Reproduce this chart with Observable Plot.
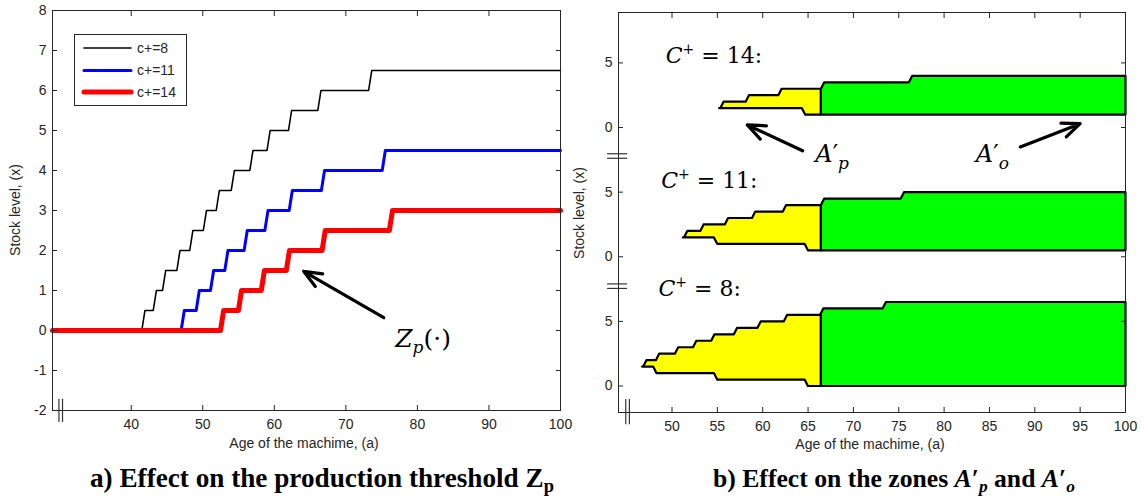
<!DOCTYPE html>
<html><head><meta charset="utf-8">
<script src="https://cdn.jsdelivr.net/npm/d3@7"></script>
<script src="https://cdn.jsdelivr.net/npm/@observablehq/plot@0.6"></script>
<style>
body{margin:0;background:#fff;}
#wrap{position:relative;width:1144px;height:499px;overflow:hidden;font-family:"Liberation Sans",Arial,sans-serif;color:#262626;}
.panel{position:absolute;top:0;}
.lab{position:absolute;font-size:14px;white-space:nowrap;transform:translate(-50%,-50%);color:#262626;}
.ylab{transform:translate(-50%,-50%) rotate(-90deg);}
#legend{position:absolute;left:74px;top:34px;width:111px;height:70px;border:1px solid #262626;background:#fff;}
#caps{position:absolute;left:0;top:0;}
</style></head><body>
<div id="wrap">
  <div id="pa" class="panel" style="left:0"></div>
  <div id="pb" class="panel" style="left:570px"></div>
  <div id="legend"></div>
  <div class="lab ylab" style="left:15px;top:210px">Stock level, (x)</div>
  <div class="lab" style="left:304px;top:443px">Age of the machime, (a)</div>
  <div class="lab ylab" style="left:579px;top:213px">Stock level, (x)</div>
  <div class="lab" style="left:870px;top:444px">Age of the machime, (a)</div>
  <svg id="caps" width="1144" height="499"></svg>
</div>
<script>
// ---------------- Panel a: production threshold Zp ----------------
const ageTicksA = [40, 50, 60, 70, 80, 90, 100];
const levelTicksA = [-2, -1, 0, 1, 2, 3, 4, 5, 6, 7, 8];
const seriesLabels = ["c+=8", "c+=11", "c+=14"];
const seriesColors = ["#000000", "#0000ff", "#ff0000"];
// ages at which Zp steps up, and the level reached
const zpAges8 = [41.7, 43.3, 44.6, 46.6, 48.4, 50.3, 52.1, 54.2, 56.8, 59.2, 62.2, 66.3, 73.4];
const zpLevels8 = [0.5, 1, 1.5, 2, 2.5, 3, 3.5, 4, 4.5, 5, 5.5, 6, 6.5];
const zpAges11 = [47.2, 49.3, 51.3, 53.3, 56.0, 58.9, 62.3, 66.8, 75.3];
const zpLevels11 = [0.5, 1, 1.5, 2, 2.5, 3, 3.5, 4, 4.5];
const zpAges14 = [52.7, 55.2, 58.4, 61.9, 66.9, 76.3];
const zpLevels14 = [0.5, 1, 1.5, 2, 2.5, 3];

// ---------------- Panel b: zones A'p (yellow) and A'o (green) ----------------
const ageTicksB = [50, 55, 60, 65, 70, 75, 80, 85, 90, 95, 100];
const levelTicksB = [0, 5, 10, 15, 20, 25];
const levelTickLabelsB = ["0", "5", "0", "5", "0", "5"];
const zoneCases = ["C+ = 8:", "C+ = 11:", "C+ = 14:"];
const zoneTipAge = [46.7, 51.2, 55.2];
const zoneTipLevel = [1.5, 1.5, 1.5];
const zoneSplitAge = [66.4, 66.4, 66.4];
const zoneEndAge = 100;
const upperAges8 = [47.0, 48.4, 50.5, 52.5, 54.5, 57.0, 59.6, 62.5, 66.5, 73.4];
const upperLevels8 = [2, 2.5, 3, 3.5, 4, 4.5, 5, 5.5, 6, 6.5];
const lowerAges8 = [48.1, 54.8, 64.8];
const lowerLevels8 = [1, 0.5, 0];
const upperAges11 = [51.5, 53.3, 56.0, 59.0, 62.4, 66.6, 75.4];
const upperLevels11 = [2, 2.5, 3, 3.5, 4, 4.5, 5];
const lowerAges11 = [54.8, 64.8];
const lowerLevels11 = [1, 0.5];
const upperAges14 = [55.5, 58.3, 61.9, 66.6, 76.3];
const upperLevels14 = [2, 2.5, 3, 3.5, 4];
const lowerAges14 = [64.5];
const lowerLevels14 = [1];

// captions
const captionA = [{t: "a) Effect on the production threshold Z"}, {t: "p", sub: 1}];
const captionB = [{t: "b) Effect on the zones "}, {t: "A", it: 1}, {t: "′"}, {t: "p", it: 1, sub: 1}, {t: " and ", up: 1}, {t: "A", it: 1}, {t: "′"}, {t: "o", it: 1, sub: 1}];

// ---------------- helpers ----------------
function stepVertices(x0, y0, ages, levels, x1, half) {
  const pts = [{x: x0, y: y0}];
  let prev = y0;
  ages.forEach((a, i) => {
    pts.push({x: a - half, y: prev});
    pts.push({x: a + half, y: levels[i]});
    prev = levels[i];
  });
  pts.push({x: x1, y: prev});
  return pts;
}
function valueAt(pts, x) {
  for (let i = 1; i < pts.length; i++) {
    if (x <= pts[i].x) {
      const p = pts[i - 1], q = pts[i];
      const t = (x - p.x) / ((q.x - p.x) || 1);
      return p.y + t * (q.y - p.y);
    }
  }
  return pts[pts.length - 1].y;
}
function clipRange(pts, lo, hi) {
  const out = [{x: lo, y: valueAt(pts, lo)}];
  pts.forEach(p => { if (p.x > lo && p.x < hi) out.push(p); });
  out.push({x: hi, y: valueAt(pts, hi)});
  return out;
}
const NS = "http://www.w3.org/2000/svg";
function richify(svg, map) {
  svg.querySelectorAll("text").forEach(t => {
    const parts = map[t.textContent];
    if (!parts) return;
    t.textContent = "";
    parts.forEach(p => {
      const ts = document.createElementNS(NS, "tspan");
      ts.textContent = p.t;
      if (p.it) ts.setAttribute("font-style", "italic");
      if (p.size) ts.setAttribute("font-size", p.size);
      if (p.dy) ts.setAttribute("dy", p.dy);
      if (p.dx) ts.setAttribute("dx", p.dx);
      t.appendChild(ts);
    });
  });
}
const axisFont = {fontFamily: "'Liberation Sans', Arial, sans-serif", fontSize: "14px", color: "#262626", background: "transparent", overflow: "visible"};
const mathFont = "'DejaVu Serif', 'Liberation Serif', serif";
const plain = d => String(d);

// ---------------- Panel a ----------------
const half = 0.22;
const lineA = [
  stepVertices(29, 0, zpAges8, zpLevels8, 100, half),
  stepVertices(29, 0, zpAges11, zpLevels11, 100, half),
  stepVertices(29, 0, zpAges14, zpLevels14, 100, half)
];
const widthsA = [1.6, 3, 5];
const zpLabel = [{age: 76.9, level: -0.42, text: "Zp(·)"}];
const zpArrow = [{a1: 75.3, l1: 0.32, a2: 64.1, l2: 1.48}];
const breakA = [29.9, 30.4];

const plotA = Plot.plot({
  width: 570, height: 460,
  marginLeft: 52, marginRight: 10, marginTop: 10, marginBottom: 50,
  style: axisFont,
  x: {domain: [29, 100]},
  y: {domain: [-2, 8]},
  marks: [
    ...lineA.map((pts, i) => Plot.line(pts, {x: "x", y: "y", stroke: seriesColors[i], strokeWidth: widthsA[i], strokeLinejoin: "round"})),
    Plot.frame({stroke: "#262626"}),
    Plot.axisX({anchor: "bottom", ticks: ageTicksA, tickSize: 5, dy: -5, fill: "none", label: null}),
    Plot.axisX({anchor: "top", ticks: ageTicksA, tickSize: 5, dy: 5, fill: "none", label: null}),
    Plot.axisY({anchor: "left", ticks: levelTicksA, tickSize: 5, dx: 5, fill: "none", label: null}),
    Plot.axisY({anchor: "right", ticks: levelTicksA, tickSize: 5, dx: -5, fill: "none", label: null}),
    Plot.axisX({anchor: "bottom", ticks: ageTicksA, tickSize: 0, tickPadding: 9, label: null, tickFormat: plain}),
    Plot.axisY({anchor: "left", ticks: levelTicksA, tickSize: 0, tickPadding: 6, label: null, tickFormat: plain}),
    Plot.ruleX(breakA, {x: d => d, y1: -1.72, y2: -2.3, stroke: "#333", strokeWidth: 1.2}),
    Plot.arrow(zpArrow, {x1: "a1", y1: "l1", x2: "a2", y2: "l2", stroke: "#000", strokeWidth: 3.2, headLength: 9, headAngle: 45}),
    Plot.text(zpLabel, {x: "age", y: "level", text: "text", textAnchor: "start", lineAnchor: "bottom", fontSize: 25, fontFamily: mathFont, fill: "#000"})
  ]
});
richify(plotA, {"Zp(·)": [{t: "Z", it: 1}, {t: "p", it: 1, size: 17, dy: 6}, {t: "(·)", dy: -6}]});
document.getElementById("pa").appendChild(plotA);

// legend
(function () {
  const svg = d3.select("#legend").append("svg").attr("width", 111).attr("height", 70);
  const rowsY = [13, 35.5, 57];
  seriesLabels.forEach((lab, i) => {
    svg.append("line").attr("x1", 9).attr("x2", 56).attr("y1", rowsY[i]).attr("y2", rowsY[i])
      .attr("stroke", seriesColors[i]).attr("stroke-width", widthsA[i]).attr("stroke-linecap", "round");
    svg.append("text").attr("x", 62).attr("y", rowsY[i]).attr("dy", "0.35em").attr("fill", "#262626")
      .attr("font-size", 14).attr("font-family", "'Liberation Sans', Arial, sans-serif").text(lab);
  });
})();

// ---------------- Panel b ----------------
const upperAges = [upperAges8, upperAges11, upperAges14];
const upperLevels = [upperLevels8, upperLevels11, upperLevels14];
const lowerAges = [lowerAges8, lowerAges11, lowerAges14];
const lowerLevels = [lowerLevels8, lowerLevels11, lowerLevels14];
const bandOffset = [0, 10, 20];
const zoneHalf = 0.18;
const yellowPolys = [], greenPolys = [];
zoneCases.forEach((c, i) => {
  const top = stepVertices(zoneTipAge[i], zoneTipLevel[i], upperAges[i], upperLevels[i], zoneEndAge, zoneHalf);
  const bot = stepVertices(zoneTipAge[i], zoneTipLevel[i], lowerAges[i], lowerLevels[i], zoneEndAge, zoneHalf);
  const make = (lo, hi, id, arr) => {
    const t = clipRange(top, lo, hi), b = clipRange(bot, lo, hi).reverse();
    const poly = [...t, ...b, t[0]];
    poly.forEach(p => arr.push({x: p.x, y: p.y + bandOffset[i], id}));
  };
  make(zoneTipAge[i], zoneSplitAge[i], "p" + i, yellowPolys);
  make(zoneSplitAge[i], zoneEndAge, "o" + i, greenPolys);
});
const caseLabels = [
  {age: 48.5, level: 6.97, text: zoneCases[0]},
  {age: 48.8, level: 15.3, text: zoneCases[1]},
  {age: 49.3, level: 25.0, text: zoneCases[2]}
];
const zoneLabels = [
  {age: 65.8, level: 17.37, text: "A′p"},
  {age: 83.5, level: 17.37, text: "A′o"}
];
const zoneArrows = [
  {a1: 64.4, l1: 18.2, a2: 58.3, l2: 20.2},
  {a1: 88.4, l1: 18.5, a2: 95.0, l2: 20.3}
];
const breakBx = [44.9, 45.3];
const breakBy = [7.55, 7.9, 17.62, 17.97];

const plotB = Plot.plot({
  width: 574, height: 460,
  marginLeft: 48, marginRight: 19, marginTop: 12, marginBottom: 48,
  style: axisFont,
  x: {domain: [44.1, 100]},
  y: {domain: [-2.05, 28.9]},
  marks: [
    Plot.line(greenPolys, {x: "x", y: "y", z: "id", fill: "#00ff00", stroke: "#000", strokeWidth: 2.2, strokeLinejoin: "round"}),
    Plot.line(yellowPolys, {x: "x", y: "y", z: "id", fill: "#ffff00", stroke: "#000", strokeWidth: 2.2, strokeLinejoin: "round"}),
    Plot.frame({stroke: "#262626"}),
    Plot.axisX({anchor: "bottom", ticks: ageTicksB, tickSize: 5, dy: -5, fill: "none", label: null}),
    Plot.axisX({anchor: "top", ticks: ageTicksB, tickSize: 5, dy: 5, fill: "none", label: null}),
    Plot.axisY({anchor: "left", ticks: levelTicksB, tickSize: 5, dx: 5, fill: "none", label: null}),
    Plot.axisY({anchor: "right", ticks: levelTicksB, tickSize: 5, dx: -5, fill: "none", label: null}),
    Plot.axisX({anchor: "bottom", ticks: ageTicksB, tickSize: 0, tickPadding: 9, label: null, tickFormat: plain}),
    Plot.axisY({anchor: "left", ticks: levelTicksB, tickSize: 0, tickPadding: 6, label: null,
      tickFormat: d => levelTickLabelsB[levelTicksB.indexOf(d)]}),
    Plot.ruleX(breakBx, {x: d => d, y1: -1.05, y2: -3.0, stroke: "#333", strokeWidth: 1.2}),
    Plot.ruleY(breakBy, {y: d => d, x1: 42.9, x2: 45.1, stroke: "#333", strokeWidth: 1.2}),
    Plot.arrow(zoneArrows, {x1: "a1", y1: "l1", x2: "a2", y2: "l2", stroke: "#000", strokeWidth: 3.2, headLength: 9, headAngle: 45}),
    Plot.text(caseLabels, {x: "age", y: "level", text: "text", textAnchor: "start", lineAnchor: "bottom", fontSize: 22, fontFamily: mathFont, fill: "#000"}),
    Plot.text(zoneLabels, {x: "age", y: "level", text: "text", textAnchor: "start", lineAnchor: "bottom", fontSize: 24, fontFamily: mathFont, fill: "#000"})
  ]
});
const rich = {};
zoneCases.forEach(c => {
  rich[c] = [{t: "C", it: 1}, {t: "+", size: 14, dy: -9}, {t: c.slice(2), dy: 9}];
});
rich["A′p"] = [{t: "A", it: 1}, {t: "′"}, {t: "p", it: 1, size: 17, dy: 7}];
rich["A′o"] = [{t: "A", it: 1}, {t: "′"}, {t: "o", it: 1, size: 17, dy: 7}];
richify(plotB, rich);
document.getElementById("pb").appendChild(plotB);

// ---------------- captions (below the plots) ----------------
(function () {
  const svg = document.getElementById("caps");
  function caption(parts, x, baseline, targetWidth) {
    const t = document.createElementNS(NS, "text");
    t.setAttribute("x", x);
    t.setAttribute("y", baseline);
    t.setAttribute("font-family", "'Liberation Serif', 'Times New Roman', serif");
    t.setAttribute("font-weight", "bold");
    t.setAttribute("fill", "#000");
    let shifted = false;
    parts.forEach(p => {
      const ts = document.createElementNS(NS, "tspan");
      ts.textContent = p.t;
      if (p.it) ts.setAttribute("font-style", "italic");
      if (p.sub) { ts.setAttribute("font-size", "0.68em"); if (!shifted) { ts.setAttribute("dy", "0.28em"); shifted = true; } }
      else if (shifted) { ts.setAttribute("dy", "-0.19em"); shifted = false; }
      t.appendChild(ts);
    });
    t.setAttribute("font-size", 26);
    svg.appendChild(t);
    const w = t.getComputedTextLength();
    if (w > 0) t.setAttribute("font-size", (26 * targetWidth / w).toFixed(2));
  }
  caption(captionA, 90, 487, 464);
  caption(captionB, 713, 487, 362);
})();
</script>
</body></html>
